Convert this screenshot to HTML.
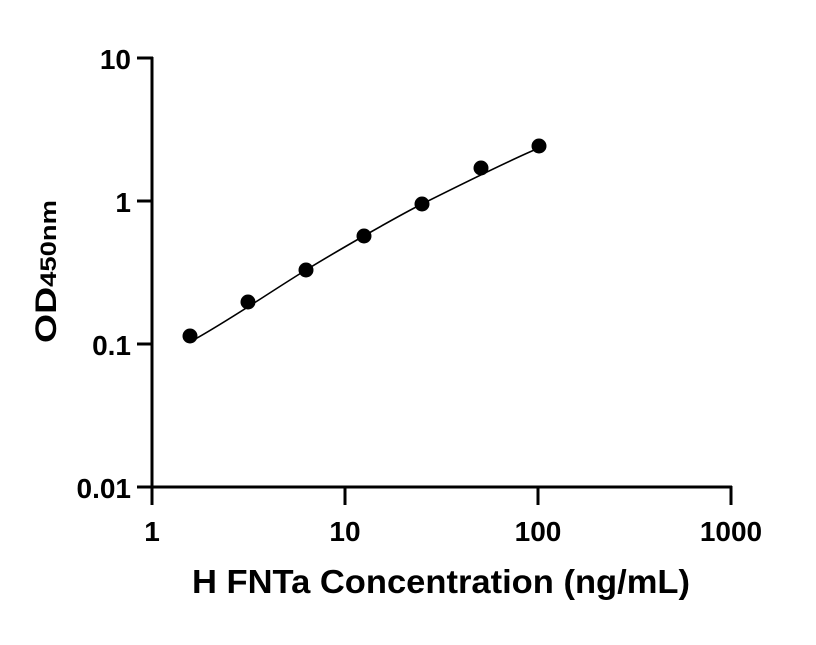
<!DOCTYPE html>
<html><head><style>body{margin:0;background:#fff}</style></head><body>
<svg width="816" height="640" xmlns="http://www.w3.org/2000/svg" font-family="Liberation Sans, sans-serif" font-weight="bold">
<rect width="816" height="640" fill="#fff"/>
<g stroke="#000" stroke-width="3" fill="none">
<path d="M152,57 V487 M137,58 H153 M137,201 H153 M137,344 H153 M137,487 H153"/>
<path d="M150,487 H732 M152,486 V505 M345,486 V505 M538,486 V505 M731,486 V505"/>
</g>
<g font-size="28" text-anchor="end">
<text x="131" y="69">10</text>
<text x="131" y="212">1</text>
<text x="131" y="355">0.1</text>
<text x="131" y="498">0.01</text>
</g>
<g font-size="28" text-anchor="middle">
<text x="152" y="541">1</text>
<text x="345" y="541">10</text>
<text x="538" y="541">100</text>
<text x="731" y="541">1000</text>
</g>
<text x="192" y="593" font-size="33" textLength="498" lengthAdjust="spacingAndGlyphs">H FNTa Concentration (ng/mL)</text>
<text transform="translate(56,343) rotate(-90)" font-size="30" textLength="143" lengthAdjust="spacingAndGlyphs">OD<tspan font-size="22">450nm</tspan></text>
<path d="M190,342 C230,320 270,292 306,270 S400,215 422,204 S510,160 539,148" stroke="#000" stroke-width="1.6" fill="none"/>
<g fill="#000">
<circle cx="190" cy="336" r="7.5"/>
<circle cx="248" cy="302" r="7.5"/>
<circle cx="306" cy="270" r="7.5"/>
<circle cx="364" cy="236" r="7.5"/>
<circle cx="422" cy="204" r="7.5"/>
<circle cx="481" cy="168" r="7.5"/>
<circle cx="539" cy="146" r="7.5"/>
</g>
</svg>
</body></html>
